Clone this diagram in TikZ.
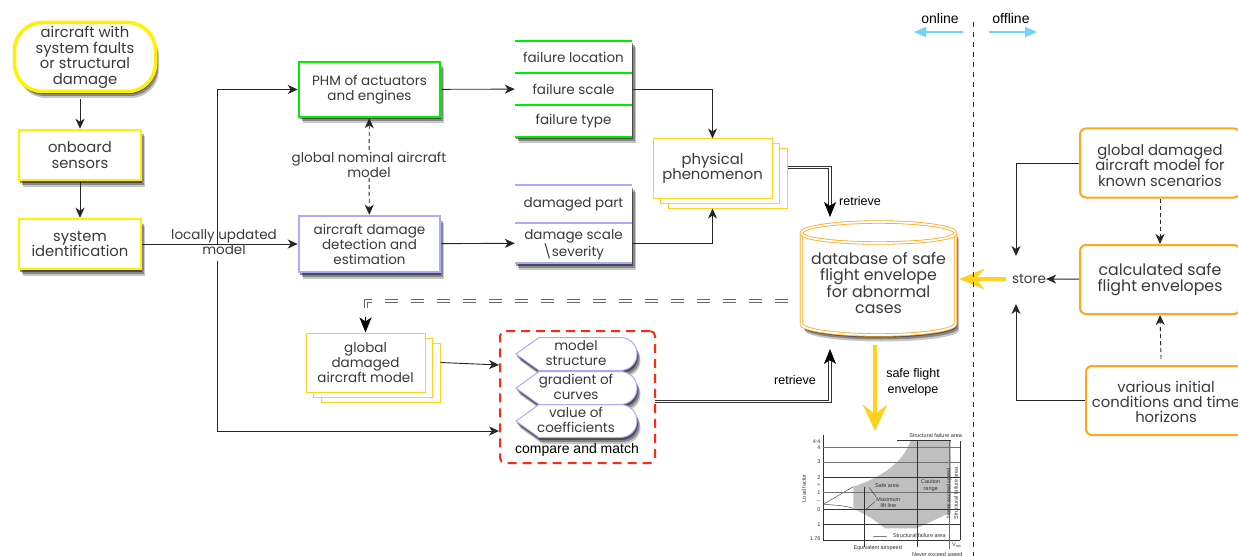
\documentclass[tikz,border=0pt]{standalone}
\usepackage{fontspec}
\setmainfont{Poppins}
\newfontfamily\helv{Liberation Sans}
\usetikzlibrary{arrows.meta,shadows}

\definecolor{inkgray}{HTML}{3A3A3A}
\definecolor{goldline}{HTML}{FFD21F}
\definecolor{orangeline}{HTML}{FFA81C}
\definecolor{blueline}{HTML}{AAAAFF}
\definecolor{greenline}{HTML}{00EE00}
\definecolor{skyline}{HTML}{6FD3FF}
\definecolor{redline}{HTML}{FF2A10}

\tikzset{
  boxtext/.style={align=center,text=inkgray,inner sep=0pt,font=\fontsize{13.5}{15}\selectfont},
  bigtext/.style={font=\fontsize{14.8}{15.4}\selectfont},
  softshadow/.style={
    drop shadow={shadow xshift=3.5pt,shadow yshift=-6.5pt,fill=black,opacity=.22},
    drop shadow={shadow xshift=2.5pt,shadow yshift=-4.5pt,fill=black,opacity=.32},
    drop shadow={shadow xshift=1pt,shadow yshift=-2.5pt,fill=black,opacity=.45}},
  yellowbox/.style={boxtext,bigtext,draw=yellow,line width=2.5pt,fill=white,softshadow,minimum width=122pt,minimum height=50pt},
  phmbox/.style={boxtext,line width=2.5pt,fill=white,softshadow,minimum width=141pt,minimum height=55pt},
  cellbox/.style={boxtext,fill=white,softshadow,minimum width=117pt},
  stackbox/.style={boxtext,draw=goldline,line width=1pt,fill=white,minimum width=119pt,minimum height=59pt,
    double copy shadow={shadow xshift=7.5pt,shadow yshift=-5pt}},
  offbox/.style={boxtext,bigtext,draw=orangeline,line width=2pt,rounded corners=6pt,fill=white,minimum height=69pt},
  tagbox/.style={draw=blueline,line width=1pt,fill=white,softshadow},
  dbline/.style={draw=orangeline,line width=.8pt,double,double distance=1.8pt},
  link/.style={draw=black!85,line width=.9pt,-{Stealth[length=10pt,width=9pt,inset=3pt]}},
  dashlink/.style={link,dash pattern=on 4pt off 3pt},
  twinlink/.style={draw=black!80,line width=.8pt,double,double distance=1.6pt},
  twintip/.style={draw=black,line width=.8pt,-{Stealth[length=15pt,width=12pt,inset=4pt]}},
  fatlink/.style={draw=goldline,line width=4.5pt,-{Stealth[length=26pt,width=24pt,inset=9pt]}},
  skylink/.style={draw=skyline,line width=1.6pt,-{Stealth[length=12pt,width=10pt,inset=0pt]}},
  helvtext/.style={inner sep=0pt,align=center,font=\helv\fontsize{12.5}{16}\selectfont}
}

\begin{document}
\begin{tikzpicture}[x=1pt,y=-1pt]
\useasboundingbox (0,0) rectangle (1238,556);

% left column
\node[yellowbox,line width=3.5pt,rounded corners=28pt,minimum width=141pt,minimum height=69pt] (aircraft) at (85,57) {\rule{0pt}{12pt}aircraft with\\system faults\\or structural\\damage};
\node[yellowbox] (sensors) at (80,155) {onboard\\sensors};
\node[yellowbox] (sysid) at (80,244) {system\\identification};
\draw[link] ([yshift=-6pt]sensors.north |- aircraft.south) -- (sensors.north);
\draw[link] (sensors) -- (sysid);

% detection
\node[phmbox,draw=greenline] (phm) at (369.5,89.5) {PHM of actuators\\and engines};
\node[phmbox,draw=blueline,minimum height=56pt] (damage) at (369.5,244) {aircraft damage\\detection and\\estimation};

% cells
\node[cellbox,minimum height=32pt] (floc) at (573.5,57) {failure location};
\node[cellbox,minimum height=32pt] (fscale) at (573.5,89) {failure scale};
\node[cellbox,minimum height=32pt] (ftype) at (573.5,121) {failure type};
\draw[greenline,line width=2pt] (floc.north west) -- (floc.north east);
\draw[greenline,line width=2pt] (fscale.north west) -- (fscale.north east);
\draw[greenline,line width=2pt] (ftype.north west) -- (ftype.north east);
\draw[greenline,line width=2pt] (ftype.south west) -- (ftype.south east);
\node[cellbox,minimum height=38pt] (dpart) at (573.5,204) {damaged part};
\node[cellbox,minimum height=40pt,font=\fontsize{13.5}{14}\selectfont] (dscale) at (573.5,243) {\rule{0pt}{13pt}damage scale\\\textbackslash severity};
\draw[blueline,line width=2pt] (dpart.north west) -- (dpart.north east);
\draw[blueline,line width=2pt] (dscale.north west) -- (dscale.north east);
\draw[blueline,line width=2pt] (dscale.south west) -- (dscale.south east);

\node[stackbox,bigtext] (phys) at (712.5,168.5) {physical\\phenomenon};
\node[stackbox] (gdm) at (365.5,362.5) {global\\damaged\\aircraft model};

% database
\draw[dbline,fill=white,softshadow] (801.5,233) .. controls (801.5,227) and (836,222) .. (878.5,222) .. controls (921,222) and (955.5,227) .. (955.5,233) -- (955.5,324) .. controls (955.5,330) and (921,335) .. (878.5,335) .. controls (836,335) and (801.5,330) .. (801.5,324) -- cycle;
\draw[dbline] (801.5,233) .. controls (801.5,239) and (836,243) .. (878.5,243) .. controls (921,243) and (955.5,239) .. (955.5,233);
\node[boxtext,font=\fontsize{15.8}{16.5}\selectfont] (db) at (878.5,283) {database of safe\\flight envelope\\for abnormal\\cases};

% compare and match
\node[draw=redline,line width=2pt,dash pattern=on 9pt off 6pt,rounded corners=5pt,minimum width=155pt,minimum height=132pt] (match) at (577.5,397) {};
\foreach \c/\i/\t in {354/1/{model\\structure},388/2/{gradient of\\curves},421/3/{value of\\coefficients}} {
  \draw[tagbox] (516,\c) -- (539,\c-16.5) -- (620,\c-16.5) .. controls (630,\c-16.5) and (637,\c-9) .. (637,\c) .. controls (637,\c+9) and (630,\c+16.5) .. (620,\c+16.5) -- (539,\c+16.5) -- cycle;
  \node[boxtext] (tag\i) at (576,\c-1) {\t};
}
\node[helvtext,font=\helv\fontsize{14}{16}\selectfont] (matchlabel) at (577,450) {compare and match};

% offline boxes
\node[offbox,minimum width=160pt] (known) at (1160,163) {\rule{0pt}{16pt}global damaged\\aircraft model for\\known scenarios};
\node[offbox,minimum width=160pt,font=\fontsize{15.8}{16.5}\selectfont] (calc) at (1160,279.5) {calculated safe\\flight envelopes};
\node[offbox,minimum width=160pt] (various) at (1166,400.5) {\rule{0pt}{14pt}various initial\\conditions and time\\horizons};
\node[boxtext] (store) at (1029,279) {store};

% free ends
\coordinate (branch) at (217,244);
\coordinate (branchlow) at (217,261);
\coordinate (matchin) at (499,365);
\coordinate (matchlow) at (499,431);
\coordinate (matchout) at (655,401.5);
\coordinate (dbtop) at (830,217);
\coordinate (dbtopmid) at (830,205);
\coordinate (dbbot) at (830,349);
\coordinate (dbbotmid) at (830,361);
\coordinate (dbleft) at (796,301);
\coordinate (dbright) at (959,279);
\coordinate (gdmcorner) at (366,301);
\coordinate (gdmstub) at (366,308);
\coordinate (gdmtip) at (365.5,317);
\coordinate (dbout) at (875,345);
\coordinate (chartin) at (875,431);
\coordinate (storeup) at (1016,256);
\coordinate (storedown) at (1016,304);

% connectors
\draw[link] (sysid) -- (damage);
\draw[link] (branch) |- (phm);
\draw[link] (branchlow) |- (matchlow);
\node[boxtext] (updated) at (224,242) {locally updated\\model};
\draw[link] (phm) -- (fscale);
\draw[link] (damage) -- (dscale);
\draw[link] (fscale) -| (phys);
\draw[link] (dscale) -| ([yshift=-10pt]phys.south);
\node[boxtext,fill=white] (nominal) at (369,165) {global nominal aircraft\\model};
\draw[dashlink,{Stealth[length=10pt,width=9pt,inset=3pt]}-] (phm) -- (nominal);
\draw[dashlink] (nominal) -- (damage);
\draw[link] ([xshift=15pt]gdm.east) -- (matchin);
\draw[twinlink] ([xshift=15pt,yshift=1pt]phys.east) -| (dbtopmid);
\draw[twintip] (dbtopmid) -- (dbtop);
\node[helvtext] (retrieveup) at (860,201) {retrieve};
\draw[twinlink] (matchout) -| (dbbotmid);
\draw[twintip] (dbbotmid) -- (dbbot);
\node[helvtext] (retrievedown) at (795,380) {retrieve};
\draw[twinlink,draw=black!60,dash pattern=on 13pt off 13pt,dash phase=18pt] (dbleft) -- (gdmcorner) -- (gdmstub);
\draw[twintip] (gdmtip) -- (gdm.north);
\draw[fatlink] (dbout) -- (chartin);
\node[helvtext] (envelope) at (913,382.5) {safe flight\\envelope};

\draw[link] (known) -| (storeup);
\draw[link] (various) -| (storedown);
\draw[link] (calc) -- (store);
\draw[dashlink] (known) -- (calc);
\draw[dashlink] ([xshift=-5pt,yshift=6pt]various.north) -- (calc.south);
\draw[fatlink,-{Stealth[length=25pt,width=20pt,inset=8pt]}] (store.west) ++(-6pt,0) -- (dbright);

% online and offline
\coordinate (divtop) at (973.5,22);
\coordinate (divbot) at (973.5,556);
\draw[black!85,line width=1pt,dash pattern=on 5pt off 5pt] (divtop) -- (divbot);
\node[helvtext,font=\helv\fontsize{14}{16}\selectfont] (online) at (940,18) {online};
\node[helvtext,font=\helv\fontsize{14}{16}\selectfont] (offline) at (1011,18) {offline};
\coordinate (onstart) at (963,32);
\coordinate (onend) at (914,32);
\coordinate (offstart) at (989,32);
\coordinate (offend) at (1037,32);
\draw[skylink] (onstart) -- (onend);
\draw[skylink] (offstart) -- (offend);

% envelope chart
\begin{scope}[shift={(790,425)},x=.3333pt,y=-.3333pt,every node/.style={inner sep=0pt,align=center,text=black!80,font=\helv\fontsize{5.5}{6.5}\selectfont}]
\fill[black!25] (190,185) .. controls (280,155) and (340,110) .. (362,47) -- (483,47) -- (483,262) -- (380,310) -- (285,310) -- (245,280) -- (190,250) -- cycle;
\draw[black!70,line width=.5pt] (100,238) -- (190,185) (100,238) .. controls (140,240) and (170,243) .. (190,250);
\draw[black!80,line width=.5pt] (100,30) -- (100,345) -- (510,345);
\foreach \ly in {157,253,298} { \draw[black!80,line width=.5pt] (100,\ly) -- (510,\ly); }
\foreach \ly in {67,113,203} { \draw[black!55,line width=1pt] (100,\ly) -- (510,\ly); }
\draw[black!80,line width=.5pt] (322,47) -- (483,47);
\draw[black!80,line width=.5pt] (510,47) -- (510,345);
\draw[black!80,line width=.6pt] (382,47) -- (382,365);
\draw[black!80,line width=.5pt] (222,185) -- (222,365);
\draw[black!55,line width=1.2pt] (478,47) -- (478,372);
\draw[black!80,line width=.4pt] (238,188) -- (258,215) (222,258) -- (255,230) (250,335) -- (290,335);
\node (ctop) at (437,32) {Structural failure area};
\node (csafe) at (291,182) {Safe area};
\node (ccaution) at (422,182) {Caution\\range};
\node (clift) at (295,232) {Maximum\\lift line};
\node (cbottom) at (388,332) {Structural failure area};
\node (cspeed) at (263,368) {Equivalent airspeed};
\node (cnever) at (442,390) {Never exceed speed};
\node[rotate=90] (cneverv) at (477,205) {Never exceed speed};
\node[rotate=90] (cfailv) at (498,205) {Structural failure area};
\node[rotate=90] (cload) at (42,190) {Load factor};
\node (cvne) at (500,360) {V$_{\mathrm{ne}}$};
\foreach \ly/\lb in {50/4:4,67/4,111/3,157/2,179/+,203/1,229/--,255/0,298/1,342/1.76} {
  \node[anchor=east] at (92,\ly) {\lb};
}
\end{scope}
\end{tikzpicture}
\end{document}
